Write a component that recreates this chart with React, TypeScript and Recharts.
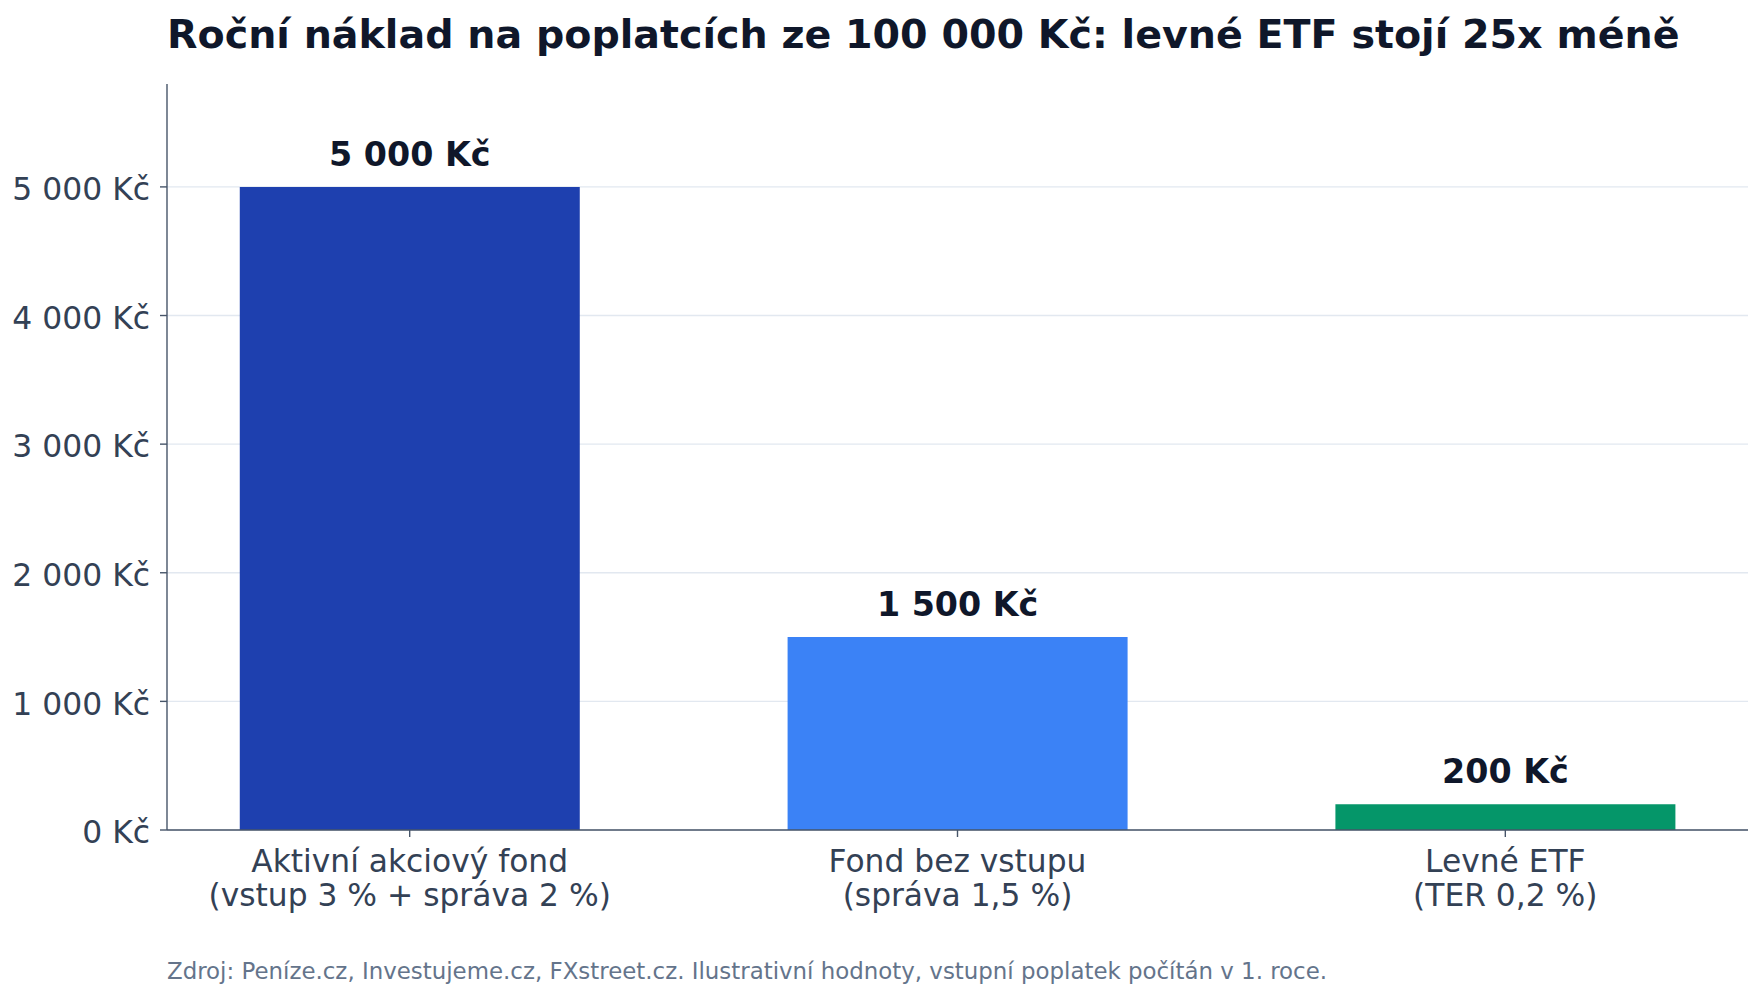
import React from "react";
import { BarChart, Bar, XAxis, YAxis, CartesianGrid, Cell, LabelList } from "recharts";

const categoryNames = ["Aktivní akciový fond", "Fond bez vstupu", "Levné ETF"];
const categoryDetails = ["(vstup 3 % + správa 2 %)", "(správa 1,5 %)", "(TER 0,2 %)"];
const annualCost = [5000, 1500, 200];
const yTicks = [0, 1000, 2000, 3000, 4000, 5000];
const xTicks = [0, 1, 2];

const barColors = ["#1e40af", "#3b82f6", "#059669"];

const TITLE = "Roční náklad na poplatcích ze 100 000 Kč: levné ETF stojí 25x méně";
const FOOTER =
  "Zdroj: Peníze.cz, Investujeme.cz, FXstreet.cz. Ilustrativní hodnoty, vstupní poplatek počítán v 1. roce.";

const FONT = "'DejaVu Sans', sans-serif";

const data = categoryNames.map((name, i) => ({
  x: i,
  name,
  detail: categoryDetails[i],
  value: annualCost[i],
}));

const fmtKc = (v: number) =>
  String(Math.round(v)).replace(/\B(?=(\d{3})+(?!\d))/g, " ") + " Kč";

const XTick = (props: any) => {
  const { x, y, payload } = props;
  const i = Math.round(payload.value);
  return (
    <text
      x={x}
      y={y}
      textAnchor="middle"
      fontFamily={FONT}
      fontSize={31.3}
      fill="#334155"
    >
      <tspan x={x} dy={34.5}>
        {categoryNames[i]}
      </tspan>
      <tspan x={x} dy={34}>
        {categoryDetails[i]}
      </tspan>
    </text>
  );
};

const YTick = (props: any) => {
  const { x, y, payload } = props;
  return (
    <text
      x={x}
      y={y}
      dy={13.3}
      textAnchor="end"
      fontFamily={FONT}
      fontSize={31.4}
      fill="#334155"
    >
      {fmtKc(Number(payload.value))}
    </text>
  );
};

const BarLabel = (props: any) => {
  const { x, y, width, value } = props;
  return (
    <text
      x={Number(x) + Number(width) / 2}
      y={Number(y) - 21}
      textAnchor="middle"
      fontFamily={FONT}
      fontSize={33.3}
      fontWeight="bold"
      fill="#0f172a"
    >
      {fmtKc(Number(value))}
    </text>
  );
};

export default function App() {
  return (
    <div style={{ position: "relative", width: 1762, height: 999, background: "#ffffff" }}>
      <style>{"body{margin:0;}"}</style>
      <BarChart
        width={1762}
        height={999}
        data={data}
        margin={{ top: 84, right: 14, bottom: 0, left: 0 }}
      >
        <CartesianGrid vertical={false} stroke="#e2e8f0" strokeWidth={1.4} syncWithTicks />
        <XAxis
          dataKey="x"
          type="number"
          domain={[-0.443, 2.443]}
          ticks={xTicks}
          interval={0}
          allowDataOverflow
          tick={<XTick />}
          tickSize={7}
          tickMargin={0}
          axisLine={{ stroke: "#475569", strokeWidth: 1.4 }}
          tickLine={{ stroke: "#475569", strokeWidth: 1.4 }}
          height={169}
        />
        <YAxis
          type="number"
          domain={[0, 5800]}
          ticks={yTicks}
          interval={0}
          allowDataOverflow
          width={167}
          tickSize={7}
          tickMargin={10}
          tick={<YTick />}
          axisLine={{ stroke: "#475569", strokeWidth: 1.4 }}
          tickLine={{ stroke: "#475569", strokeWidth: 1.4 }}
        />
        <Bar dataKey="value" barSize={340} isAnimationActive={false}>
          {data.map((d, i) => (
            <Cell key={d.name} fill={barColors[i]} />
          ))}
          <LabelList dataKey="value" content={<BarLabel />} />
        </Bar>
      </BarChart>
      <svg
        width={1762}
        height={999}
        style={{ position: "absolute", left: 0, top: 0, pointerEvents: "none" }}
      >
        <text x={167} y={48} fontFamily={FONT} fontSize={39.6} fontWeight="bold" fill="#0f172a">
          {TITLE}
        </text>
        <text x={167} y={979} fontFamily={FONT} fontSize={22.9} fill="#64748b">
          {FOOTER}
        </text>
      </svg>
    </div>
  );
}
